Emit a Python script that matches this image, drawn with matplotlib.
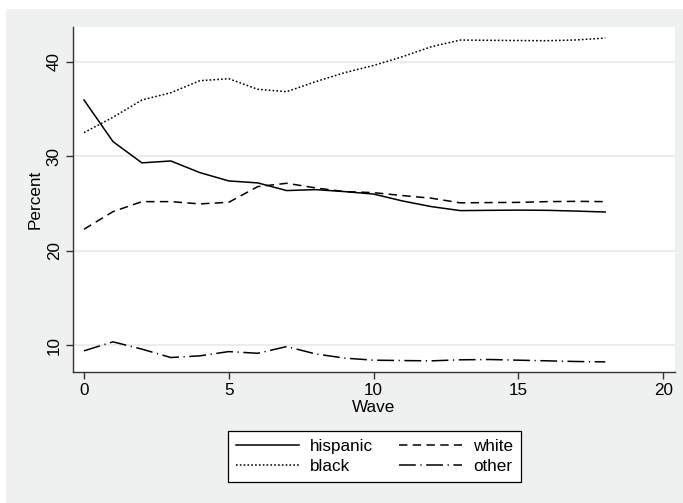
import matplotlib
matplotlib.use('Agg')
import matplotlib.pyplot as plt
from matplotlib.patches import Rectangle

# Percent by wave for each group
wave = list(range(19))
hispanic = [35.95, 31.55, 29.3, 29.5, 28.27, 27.39, 27.18, 26.37, 26.47, 26.26, 26.0,
            25.27, 24.67, 24.25, 24.28, 24.3, 24.28, 24.2, 24.1]
white = [22.28, 24.14, 25.2, 25.2, 24.96, 25.13, 26.79, 27.14, 26.65, 26.26, 26.15,
         25.84, 25.56, 25.07, 25.1, 25.12, 25.2, 25.23, 25.2]
black = [32.5, 34.12, 35.95, 36.72, 37.99, 38.2, 37.08, 36.83, 37.89, 38.84, 39.6,
         40.53, 41.59, 42.29, 42.26, 42.24, 42.22, 42.3, 42.5]
other = [9.42, 10.37, 9.6, 8.71, 8.89, 9.34, 9.16, 9.87, 9.09, 8.65, 8.43,
         8.39, 8.36, 8.47, 8.5, 8.43, 8.36, 8.29, 8.25]

plt.rcParams['font.family'] = ['Liberation Sans', 'DejaVu Sans']
fs = 12.3

W, H = 683, 503
fig = plt.figure(figsize=(W / 100, H / 100), dpi=100, facecolor='white')
# Stata-style grey graph region
fig.patches.append(Rectangle((6 / W, 0), 1, 1 - 9 / H, transform=fig.transFigure,
                             facecolor='#eff1f0', edgecolor='none', zorder=-1))

ax = fig.add_axes([73 / W, 1 - 372 / H, (675 - 73) / W, (372 - 27) / H])
ax.set_facecolor('white')

lw = 1.1
ax.plot(wave, hispanic, color='black', lw=lw, linestyle='-', label='hispanic')
ax.plot(wave, black, color='black', lw=lw, linestyle=(0, (1.1, 1.4)), label='black')
ax.plot(wave, white, color='black', lw=lw, linestyle=(0, (5.5, 3.5)), label='white')
ax.plot(wave, other, color='black', lw=lw, linestyle=(0, (11, 3, 0.8, 3)), label='other')

ax.set_xlim(-0.38, 20.41)
ax.set_ylim(7.18, 43.67)
ax.set_xticks([0, 5, 10, 15, 20])
ax.set_yticks([10, 20, 30, 40])
ax.grid(axis='y', color='#e6e8e8', lw=1.1)
ax.set_axisbelow(True)

for s in ['top', 'right']:
    ax.spines[s].set_visible(False)
for s in ['left', 'bottom']:
    ax.spines[s].set_color('#333333')
    ax.spines[s].set_linewidth(1.0)

ax.tick_params(axis='both', direction='out', length=5, width=1.0, color='#333333',
               labelsize=fs, pad=3)
for lab in ax.get_yticklabels():
    lab.set_rotation(90)
    lab.set_va('center')

ax.set_xlabel('Wave', fontsize=fs, labelpad=1)
ax.set_ylabel('Percent', fontsize=fs, labelpad=3)

leg = ax.legend(ncol=2, loc='center', bbox_to_anchor=(374.5 / W, 1 - 456.5 / H),
                bbox_transform=fig.transFigure, fontsize=fs, handlelength=3.7,
                frameon=True, fancybox=False, edgecolor='black', facecolor='white',
                framealpha=1, borderpad=0.45, columnspacing=1.5, handletextpad=0.65,
                labelspacing=0.3)
leg.get_frame().set_linewidth(0.9)

fig.savefig('out.png', dpi=100)
